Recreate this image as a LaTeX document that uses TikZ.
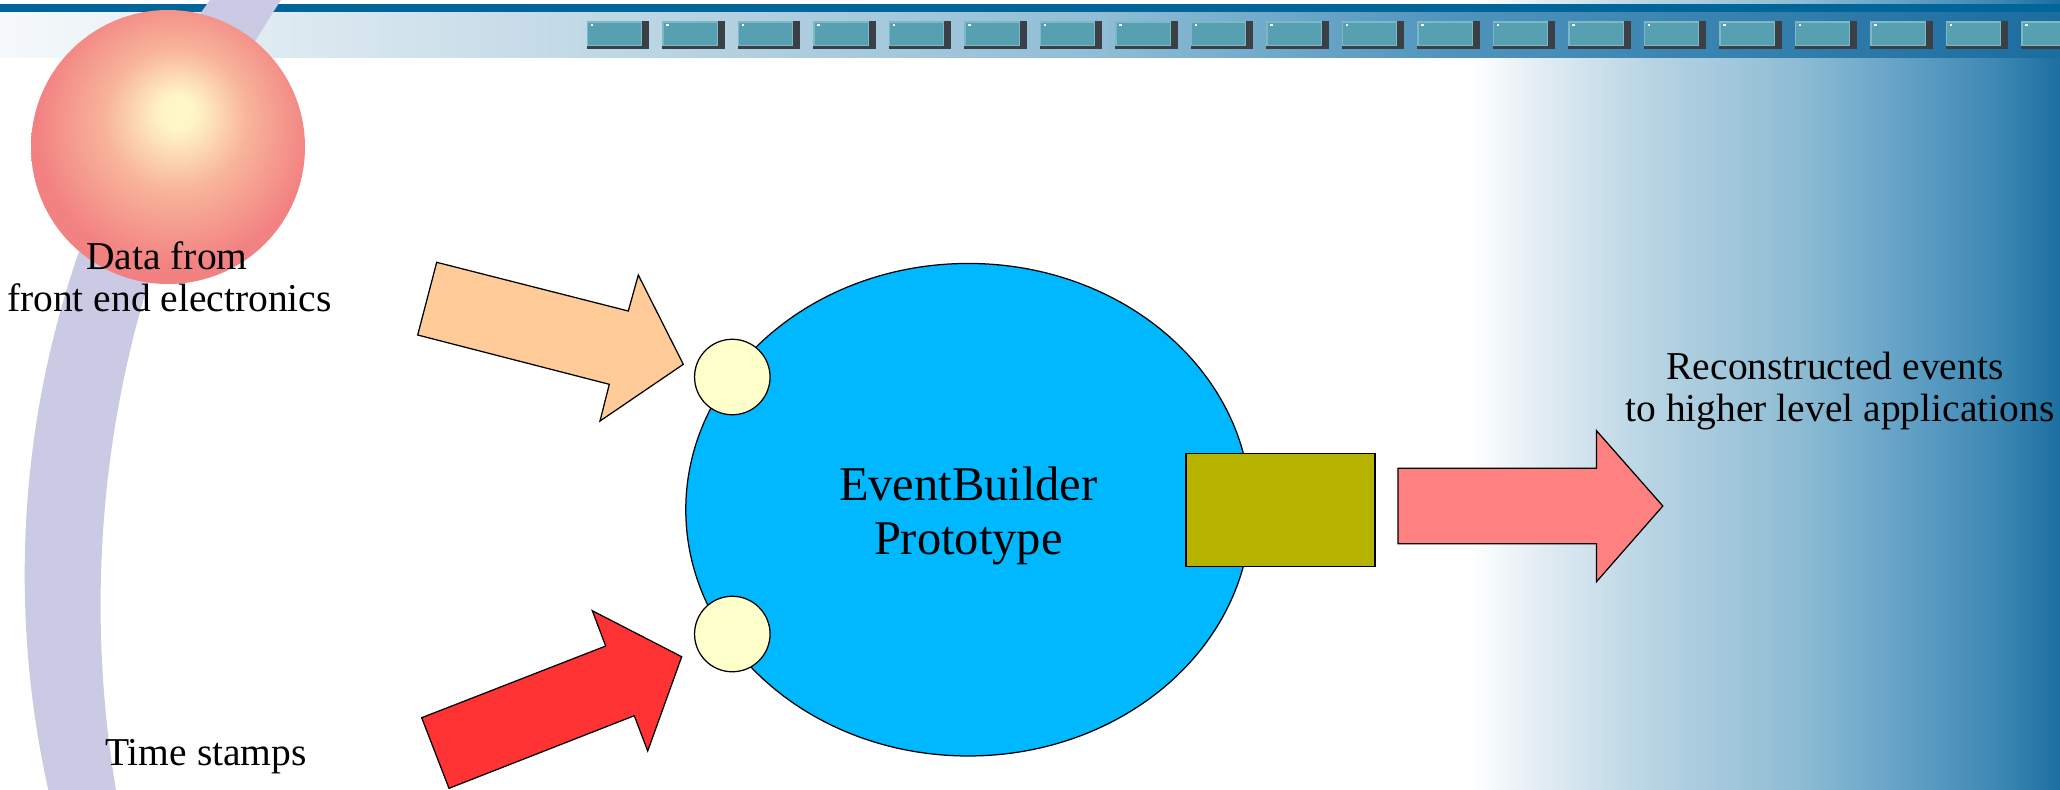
\documentclass[tikz,border=0pt]{standalone}
\usepackage{fontspec}
\setmainfont{Liberation Serif}
\usetikzlibrary{shapes.geometric}
\definecolor{hdrdark}{HTML}{006699}
\definecolor{h0}{HTML}{F6F9FB}
\definecolor{h1}{HTML}{DCE9F0}
\definecolor{h2}{HTML}{B6D2E2}
\definecolor{h3}{HTML}{90BDD6}
\definecolor{h4}{HTML}{4F94BD}
\definecolor{h5}{HTML}{1B6C9F}
\definecolor{p0}{HTML}{FFFFFF}
\definecolor{p1}{HTML}{E2EDF3}
\definecolor{p2}{HTML}{B8D4E3}
\definecolor{p3}{HTML}{8DBCD4}
\definecolor{p4}{HTML}{64A2C6}
\definecolor{p5}{HTML}{3C87B3}
\definecolor{p6}{HTML}{1C6FA0}
\definecolor{sqface}{HTML}{57A0B2}
\definecolor{sqdark}{HTML}{3A4045}
\definecolor{sqlight}{HTML}{7DB8C6}
\definecolor{lav}{HTML}{CACAE4}
\definecolor{sph0}{HTML}{FFF6C8}
\definecolor{sph1}{HTML}{F8B49A}
\definecolor{sph2}{HTML}{F28282}
\definecolor{ebcyan}{HTML}{00B8FF}
\definecolor{portyellow}{HTML}{FFFFCC}
\definecolor{outolive}{HTML}{B5B300}
\definecolor{peach}{HTML}{FFCC99}
\definecolor{redarrow}{HTML}{FF3333}
\definecolor{pinkarrow}{HTML}{FF8080}
\pgfdeclarehorizontalshading{hdrshade}{100bp}{color(0bp)=(h0); color(25bp)=(h0); color(32.3bp)=(h1); color(42bp)=(h2); color(51.7bp)=(h3); color(60.2bp)=(h4); color(75bp)=(h5); color(100bp)=(h5)}
\pgfdeclarehorizontalshading{panelshade}{100bp}{color(0bp)=(p0); color(25.8bp)=(p0); color(31.7bp)=(p1); color(40.8bp)=(p2); color(53.3bp)=(p3); color(61.7bp)=(p4); color(70bp)=(p5); color(75bp)=(p6); color(100bp)=(p6)}
\pgfdeclareradialshading{sphereshade}{\pgfpoint{2bp}{6.75bp}}{color(0bp)=(sph0); color(3bp)=(sph0); color(13bp)=(sph1); color(25bp)=(sph2); color(50bp)=(sph2)}
\begin{document}
\begin{tikzpicture}[x=0.4pt,y=-0.4pt,
  outl/.style={draw=black, line width=0.5pt},
  lbl/.style={font=\fontsize{15.8pt}{19pt}\selectfont, inner sep=0pt, anchor=base},
  biglbl/.style={font=\fontsize{19.4pt}{23pt}\selectfont, inner sep=0pt, anchor=base},
  port/.style={circle, outl, fill=portyellow, minimum size=30.2pt, inner sep=0pt},
  blockarrow/.style={outl, line join=miter}]
\useasboundingbox (0,0) rectangle (2060,789);
\clip (0,0) rectangle (2060,789);
\fill[white] (0,0) rectangle (2060,789);
% right background panel
\shade[shading=panelshade] (1460,0) rectangle (2060,789);
% header
\fill[hdrdark] (0,4) rectangle (2060,12);
\shade[shading=hdrshade] (0,12) rectangle (2060,57);
\foreach \i in {0,...,19}{
  \pgfmathsetmacro{\sx}{586.7+75.5*\i}
  \fill[sqdark] (\sx,21) rectangle ++(62.5,28);
  \fill[sqlight] (\sx,21) rectangle ++(55.5,24.5);
  \fill[sqface] (\sx+1.5,22.5) rectangle ++(53,22.5);
  \fill[white] (\sx+4,24) rectangle ++(2.5,1.5);
}
% lavender crescent
\begin{scope}
  \clip (1008.2,574.7) circle[radius=983.5];
  \fill[lav, even odd rule] (-100,-100) rectangle (2200,900) (1205.4,605.3) circle[radius=1104.8];
\end{scope}
% sphere
\shade[shading=sphereshade] (168,147) circle[radius=137];
% labels
\node[lbl] (l1a) at (167,269) {Data from};
\node[lbl] (l1b) at (169.5,311.7) {front end electronics};
\node[lbl] (l2) at (206,765) {Time stamps};
\node[lbl] (l3a) at (1835,379) {Reconstructed events};
\node[lbl] (l3b) at (1840,421.7) {to higher level applications};
% main ellipse
\node[ellipse, outl, fill=ebcyan, minimum width=226pt, minimum height=197pt, inner sep=0pt] (eb) at (968.3,509.7) {};
\node[biglbl] (ebt1) at (968.3,500) {EventBuilder};
\node[biglbl] (ebt2) at (968.3,554) {Prototype};
% ports
\node[port] (in1) at (732.3,377) {};
\node[port] (in2) at (732.3,634) {};
\node[rectangle, outl, fill=outolive, minimum width=75.6pt, minimum height=45.2pt, inner sep=0pt] (out) at (1280.5,509.8) {};
% block arrows
\draw[blockarrow, fill=peach] (436.7,262.3) -- (628.3,311) -- (638.3,275) -- (683.3,364.3) -- (600,421) -- (609.3,384.3) -- (417.7,335) -- cycle;
\draw[blockarrow, fill=redarrow] (421.7,717.7) -- (605.7,646) -- (592.3,610.7) -- (681.7,656.7) -- (647.7,751) -- (634.3,715.7) -- (449,788.3) -- cycle;
\draw[blockarrow, fill=pinkarrow] (1398,468.3) -- (1596.5,468.3) -- (1596.5,430.7) -- (1662.8,506) -- (1596.5,581.7) -- (1596.5,543.7) -- (1398,543.7) -- cycle;
\end{tikzpicture}
\end{document}
